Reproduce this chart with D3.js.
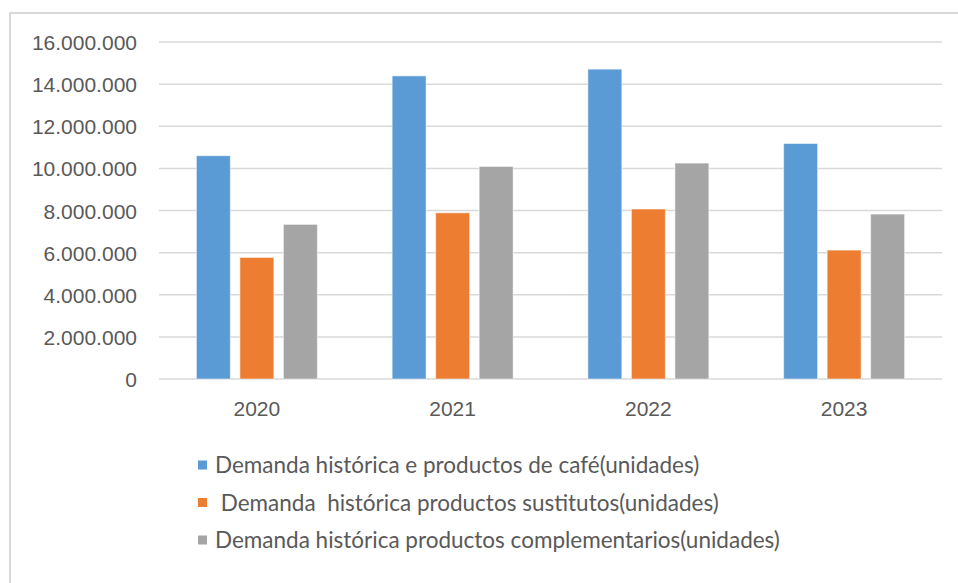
<!DOCTYPE html>
<html>
<head>
<meta charset="utf-8">
<script src="https://cdn.jsdelivr.net/npm/d3@7"></script>
<style>
  body { margin: 0; background: #fff; }
  svg { display: block; font-family: Lato, "Open Sans", sans-serif; }
  .axis text { fill: #595959; }
</style>
</head>
<body>
<svg id="chart" width="958" height="583"></svg>
<script>
// data
var years = ["2020", "2021", "2022", "2023"];
var cafe = [10600000, 14390000, 14710000, 11180000];
var sustitutos = [5770000, 7890000, 8070000, 6120000];
var complementarios = [7340000, 10090000, 10250000, 7830000];
var yTicks = [0, 2000000, 4000000, 6000000, 8000000, 10000000, 12000000, 14000000, 16000000];
var seriesNames = [
    "Demanda histórica e productos de café(unidades)",
    " Demanda  histórica productos sustitutos(unidades)",
    "Demanda histórica productos complementarios(unidades)"
];
var colors = ["#5B9BD5", "#ED7D31", "#A5A5A5"];

var series = [cafe, sustitutos, complementarios];

var svg = d3.select("#chart"),
    margin = {top: 42, right: 16, bottom: 204, left: 159},
    width = +svg.attr("width") - margin.left - margin.right,
    height = +svg.attr("height") - margin.top - margin.bottom;

// outer chart border
svg.append("rect")
    .attr("x", 10)
    .attr("y", 13)
    .attr("width", 960)
    .attr("height", 600)
    .attr("fill", "none")
    .attr("stroke", "#d9d9d9")
    .attr("stroke-width", 2);

var locale = d3.formatLocale({decimal: ",", thousands: ".", grouping: [3], currency: ["", ""]});
var fmt = locale.format(",");

var x0 = d3.scaleBand()
    .domain(years)
    .range([0, width])
    .paddingInner(0.382)
    .paddingOuter(0.191);

var x1 = d3.scaleBand()
    .domain(d3.range(series.length))
    .range([0, x0.bandwidth()])
    .paddingInner(0.22);

var y = d3.scaleLinear()
    .domain([0, 16000000])
    .range([height, 0]);

var g = svg.append("g")
    .attr("transform", "translate(" + margin.left + "," + margin.top + ")");

// gridlines
g.append("g")
    .selectAll("line")
    .data(yTicks)
    .enter()
    .append("line")
    .attr("x1", 0)
    .attr("x2", width)
    .attr("y1", function (d) { return y(d); })
    .attr("y2", function (d) { return y(d); })
    .attr("stroke", "#d9d9d9")
    .attr("stroke-width", 1.5);

// y axis labels
var yAxis = g.append("g")
    .attr("class", "axis axis--y")
    .attr("transform", "translate(-22,0)")
    .call(d3.axisLeft(y).tickValues(yTicks).tickFormat(fmt).tickSize(0).tickPadding(0));
yAxis.select(".domain").remove();
yAxis.selectAll("text").attr("font-size", 21).attr("dy", "0.36em");

// x axis labels
var xAxis = g.append("g")
    .attr("class", "axis axis--x")
    .attr("transform", "translate(0," + height + ")")
    .call(d3.axisBottom(x0).tickSize(0).tickPadding(22));
xAxis.select(".domain").remove();
xAxis.selectAll("text").attr("font-size", 21);

// bars
var rows = years.map(function (yr, i) {
    return {year: yr, values: series.map(function (s, k) { return {k: k, v: s[i]}; })};
});

g.append("g")
    .selectAll("g")
    .data(rows)
    .enter()
    .append("g")
    .attr("transform", function (d) { return "translate(" + x0(d.year) + ",0)"; })
    .selectAll("rect")
    .data(function (d) { return d.values; })
    .enter()
    .append("rect")
    .attr("x", function (d) { return x1(d.k); })
    .attr("y", function (d) { return y(d.v); })
    .attr("width", x1.bandwidth())
    .attr("height", function (d) { return height - y(d.v); })
    .attr("fill", function (d) { return colors[d.k]; })
    .attr("stroke", "#ffffff")
    .attr("stroke-opacity", 0.5)
    .attr("stroke-width", 1);

// legend
var legend = svg.append("g")
    .attr("transform", "translate(198,465)")
    .selectAll("g")
    .data(seriesNames)
    .enter()
    .append("g")
    .attr("transform", function (d, i) { return "translate(0," + (i * 37.5) + ")"; });

legend.append("rect")
    .attr("x", 0)
    .attr("y", -4.5)
    .attr("width", 9)
    .attr("height", 9)
    .attr("fill", function (d, i) { return colors[i]; });

legend.append("text")
    .attr("x", 17)
    .attr("dy", "0.36em")
    .attr("font-size", 22.5)
    .attr("fill", "#595959")
    .style("white-space", "pre")
    .text(function (d) { return d; });
</script>
</body>
</html>
